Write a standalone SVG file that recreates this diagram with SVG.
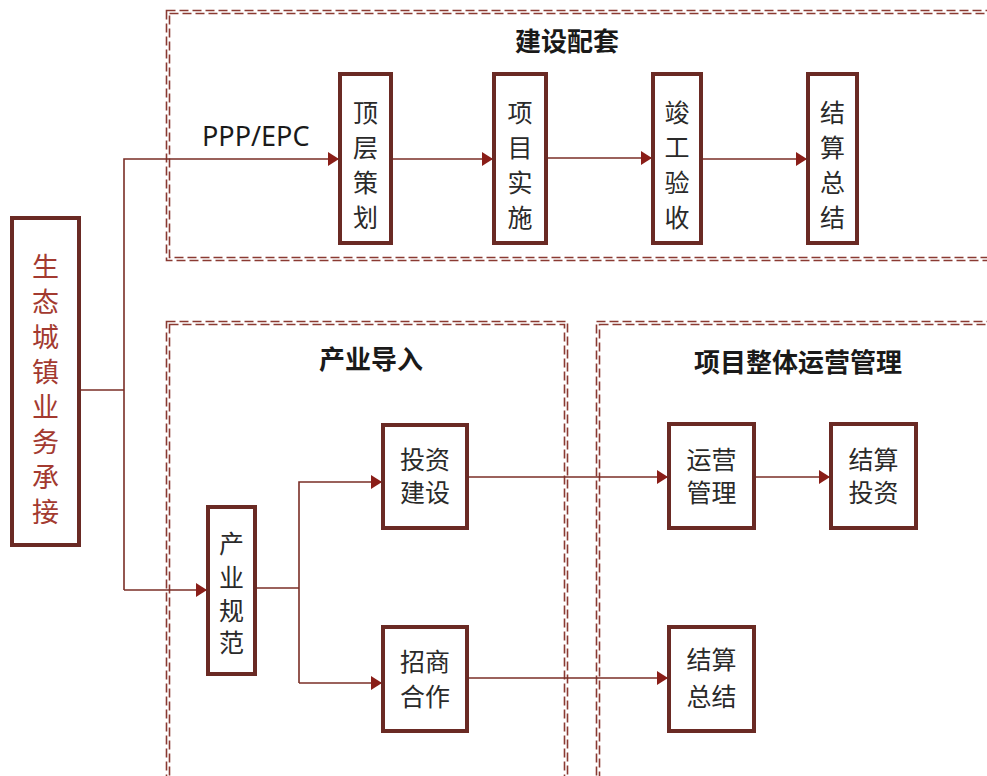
<svg xmlns="http://www.w3.org/2000/svg" width="987" height="776" viewBox="0 0 987 776">
<defs>
<style>
.frame{fill:none;stroke:#8a3a32;stroke-width:1.6;stroke-dasharray:9 4}
.box{fill:#fff;stroke:#6a2a24;stroke-width:4}
.t{font-family:"Noto Sans CJK SC","Noto Sans",sans-serif;font-size:25px;fill:#2a2a2a;text-anchor:middle}
.tr{font-family:"Noto Sans CJK SC","Noto Sans",sans-serif;font-size:27px;fill:#a33a30;text-anchor:middle}
.title{font-family:"Noto Sans CJK SC","Noto Sans",sans-serif;font-size:26px;font-weight:bold;fill:#1a1a1a;text-anchor:middle}
.lbl{font-family:"Noto Sans","Open Sans",sans-serif;font-size:27px;fill:#1a1a1a}
.c{fill:none;stroke:#7a2e26;stroke-width:1.6}
</style>
<marker id="ah" markerUnits="userSpaceOnUse" markerWidth="12" markerHeight="14" refX="11" refY="7" orient="auto">
<path d="M0,0 L11,7 L0,14 Z" fill="#8a1e18"/>
</marker>
</defs>
<rect width="987" height="776" fill="#fff"/>

<g id="frame-jianshe">
<rect class="frame" x="166.5" y="10.5" width="840" height="250"/>
<rect class="frame" x="169.5" y="13.5" width="834" height="244"/>
<text class="title" x="567" y="51">建设配套</text>
</g>
<g id="frame-chanye">
<rect class="frame" x="166.5" y="321.5" width="401" height="480"/>
<rect class="frame" x="169.5" y="324.5" width="395" height="474"/>
<text class="title" x="371" y="369">产业导入</text>
</g>
<g id="frame-yunying">
<rect class="frame" x="596.5" y="321.5" width="410" height="480"/>
<rect class="frame" x="599.5" y="324.5" width="404" height="474"/>
<text class="title" x="798" y="372">项目整体运营管理</text>
</g>

<g id="connectors">
<polyline class="c" points="79,390 124,390"/>
<polyline class="c" points="124,590 124,159 339,159" marker-end="url(#ah)"/>
<polyline class="c" points="124,590 207,590" marker-end="url(#ah)"/>
<polyline class="c" points="391,159 493,159" marker-end="url(#ah)"/>
<polyline class="c" points="546,158 652,158" marker-end="url(#ah)"/>
<polyline class="c" points="701,159 807,159" marker-end="url(#ah)"/>
<polyline class="c" points="255,588 299,588"/>
<polyline class="c" points="299,683 299,482 382,482" marker-end="url(#ah)"/>
<polyline class="c" points="299,683 382,683" marker-end="url(#ah)"/>
<polyline class="c" points="467,477 668,477" marker-end="url(#ah)"/>
<polyline class="c" points="754,477 830,477" marker-end="url(#ah)"/>
<polyline class="c" points="467,678 668,678" marker-end="url(#ah)"/>
<text class="lbl" x="202" y="146">PPP/EPC</text>
</g>

<g id="n-shengtai">
<rect class="box" x="12" y="218" width="67" height="327"/>
<text class="tr" x="45.5" y="277"><tspan x="45.5">生</tspan><tspan x="45.5" dy="35">态</tspan><tspan x="45.5" dy="35">城</tspan><tspan x="45.5" dy="35">镇</tspan><tspan x="45.5" dy="35">业</tspan><tspan x="45.5" dy="35">务</tspan><tspan x="45.5" dy="35">承</tspan><tspan x="45.5" dy="35">接</tspan></text>
</g>

<g id="n-dingceng">
<rect class="box" x="340" y="74" width="51" height="169"/>
<text class="t" x="365.5" y="122"><tspan x="365.5">顶</tspan><tspan x="365.5" dy="35">层</tspan><tspan x="365.5" dy="35">策</tspan><tspan x="365.5" dy="35">划</tspan></text>
</g>
<g id="n-xiangmu">
<rect class="box" x="494" y="74" width="52" height="169"/>
<text class="t" x="520" y="122"><tspan x="520">项</tspan><tspan x="520" dy="35">目</tspan><tspan x="520" dy="35">实</tspan><tspan x="520" dy="35">施</tspan></text>
</g>
<g id="n-jungong">
<rect class="box" x="653" y="74" width="48" height="169"/>
<text class="t" x="677" y="122"><tspan x="677">竣</tspan><tspan x="677" dy="35">工</tspan><tspan x="677" dy="35">验</tspan><tspan x="677" dy="35">收</tspan></text>
</g>
<g id="n-jiesuan1">
<rect class="box" x="808" y="74" width="49" height="169"/>
<text class="t" x="832.5" y="122"><tspan x="832.5">结</tspan><tspan x="832.5" dy="35">算</tspan><tspan x="832.5" dy="35">总</tspan><tspan x="832.5" dy="35">结</tspan></text>
</g>

<g id="n-guifan">
<rect class="box" x="208" y="507" width="47" height="167"/>
<text class="t" x="231.5" y="553"><tspan x="231.5">产</tspan><tspan x="231.5" dy="34">业</tspan><tspan x="231.5" dy="33">规</tspan><tspan x="231.5" dy="32">范</tspan></text>
</g>
<g id="n-touzi">
<rect class="box" x="383" y="425" width="84" height="103"/>
<text class="t" x="425" y="469"><tspan x="425">投资</tspan><tspan x="425" dy="33">建设</tspan></text>
</g>
<g id="n-zhaoshang">
<rect class="box" x="383" y="627" width="84" height="104"/>
<text class="t" x="425" y="671"><tspan x="425">招商</tspan><tspan x="425" dy="35">合作</tspan></text>
</g>
<g id="n-yunying">
<rect class="box" x="669" y="424" width="85" height="104"/>
<text class="t" x="711.5" y="469"><tspan x="711.5">运营</tspan><tspan x="711.5" dy="33">管理</tspan></text>
</g>
<g id="n-jiesuan2">
<rect class="box" x="831" y="424" width="85" height="104"/>
<text class="t" x="873.5" y="469"><tspan x="873.5">结算</tspan><tspan x="873.5" dy="33">投资</tspan></text>
</g>
<g id="n-jiesuan3">
<rect class="box" x="669" y="627" width="85" height="104"/>
<text class="t" x="711.5" y="669"><tspan x="711.5">结算</tspan><tspan x="711.5" dy="37">总结</tspan></text>
</g>
</svg>
